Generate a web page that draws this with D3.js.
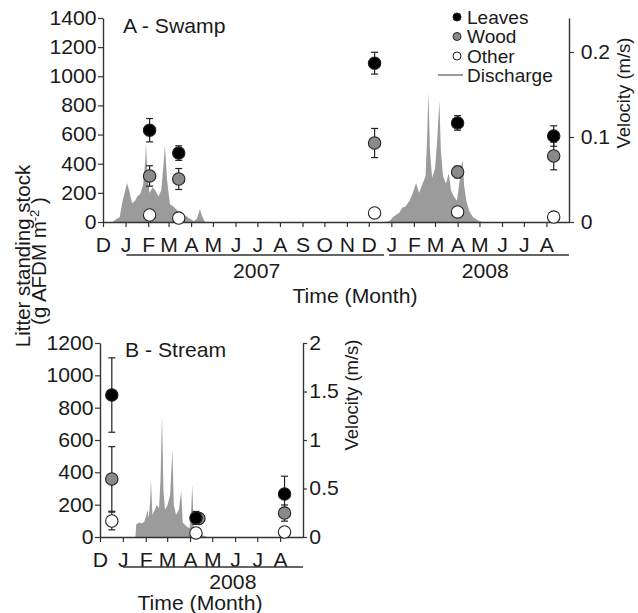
<!DOCTYPE html>
<html><head><meta charset="utf-8">
<script src="https://cdn.jsdelivr.net/npm/d3@7"></script>
<style>
body{margin:0;background:#fff;}
svg{display:block;}
text{font-family:"Liberation Sans",Arial,Helvetica,sans-serif;fill:#1a1a1a;}
</style></head><body>
<svg id="chart" width="638" height="613"></svg>
<script>
const parse = d3.timeParse("%Y-%m-%d");

// ---------- tick labels ----------
const monthLabelsA = ["D","J","F","M","A","M","J","J","A","S","O","N","D","J","F","M","A","M","J","J","A"];
const monthLabelsB = ["D","J","F","M","A","M","J","J","A"];
const litterTicksA = [0,200,400,600,800,1000,1200,1400];
const velTicksA = [0,0.1,0.2];
const litterTicksB = [0,200,400,600,800,1000,1200];
const velTicksB = [0,0.5,1,1.5,2];
const yearLabelsA = ["2007","2008"];
const yearSpansA = [["2007-01-02","2007-12-22"],["2007-12-29","2008-09-01"]];
const yearTextDatesA = ["2007-06-30","2008-05-09"];
const yearLabelsB = ["2008"];
const yearSpansB = [["2008-01-01","2008-09-01"]];
const yearTextDatesB = ["2008-05-29"];
const legendLabels = ["Leaves","Wood","Other","Discharge"];

// ---------- Swamp litter standing stock (g AFDM m-2) ----------
const swampDates      = ["2007-02-03","2007-03-15","2007-12-09","2008-04-01","2008-08-11"];
const swampLeaves     = [630, 473, 1090, 680, 590];
const swampLeavesErr  = [80, 50, 75, 50, 70];
const swampWood       = [316, 295, 542, 343, 453];
const swampWoodErr    = [70, 72, 100, 40, 95];
const swampOther      = [48, 27, 62, 69, 34];
const swampOtherErr   = [0, 0, 0, 0, 0];

// ---------- Stream litter standing stock ----------
const streamDates     = ["2007-12-17","2008-04-09","2008-08-07"];
const streamWoodDates = ["2007-12-17","2008-04-13","2008-08-07"];
const streamLeaves    = [878, 118, 266];
const streamLeavesErr = [230, 40, 110];
const streamWood      = [359, 115, 148];
const streamWoodErr   = [200, 30, 50];
const streamOther     = [99, 25, 31];
const streamOtherErr  = [55, 10, 15];

// ---------- Swamp discharge velocity (m/s) ----------
const swampQDates = ["2006-12-15","2006-12-17","2006-12-24","2006-12-28","2007-01-03","2007-01-06","2007-01-10","2007-01-14","2007-01-17","2007-01-21","2007-01-25","2007-01-28","2007-01-29","2007-01-31","2007-02-03","2007-02-07","2007-02-11","2007-02-15","2007-02-19","2007-02-22","2007-02-24","2007-02-27","2007-03-03","2007-03-08","2007-03-14","2007-03-19","2007-03-25","2007-03-30","2007-04-05","2007-04-09","2007-04-13","2007-04-16","2007-04-20",
  "2007-12-22","2007-12-29","2008-01-05","2008-01-12","2008-01-16","2008-01-20","2008-01-26","2008-01-30","2008-02-04","2008-02-08","2008-02-12","2008-02-17","2008-02-19","2008-02-21","2008-02-23","2008-02-26","2008-03-01","2008-03-04","2008-03-07","2008-03-09","2008-03-12","2008-03-16","2008-03-20","2008-03-23","2008-03-27","2008-03-31","2008-04-03","2008-04-06","2008-04-08","2008-04-10","2008-04-13","2008-04-17","2008-04-22","2008-05-01","2008-05-06"];
const swampQ = [0,0.002,0.006,0.025,0.046,0.037,0.022,0.025,0.030,0.033,0.043,0.072,0.093,0.054,0.034,0.041,0.037,0.030,0.037,0.066,0.090,0.049,0.021,0.018,0.013,0.011,0.007,0.004,0.001,0.004,0.015,0.007,0,
  0,0.001,0.007,0.011,0.017,0.018,0.025,0.033,0.046,0.034,0.043,0.054,0.096,0.153,0.084,0.052,0.063,0.096,0.143,0.084,0.054,0.045,0.057,0.037,0.030,0.025,0.043,0.066,0.072,0.043,0.025,0.013,0.006,0.001,0];

// ---------- Stream discharge velocity (m/s) ----------
const streamQDates = ["2008-01-18","2008-01-19","2008-01-23","2008-01-27","2008-01-30","2008-02-02","2008-02-03","2008-02-05","2008-02-07","2008-02-08","2008-02-10","2008-02-12","2008-02-16","2008-02-19","2008-02-21","2008-02-23","2008-02-25","2008-02-27","2008-03-01","2008-03-05","2008-03-08","2008-03-10","2008-03-13","2008-03-17","2008-03-20","2008-03-22","2008-03-27","2008-03-31","2008-04-02","2008-04-04","2008-04-06","2008-04-11","2008-04-17","2008-04-24"];
const streamQ = [0,0.13,0.15,0.14,0.16,0.23,0.28,0.20,0.38,0.59,0.23,0.26,0.33,0.30,0.59,1.26,0.48,0.28,0.32,0.43,0.90,0.33,0.23,0.28,0.48,0.15,0.11,0.09,0.18,0.54,0.09,0.05,0.02,0];

// ---------- styling ----------
const FS = 20, SX = 1.06;
const AX = "#333";
const COL = {leaves:"#000", wood:"#8a8a8a", other:"#fff", area:"#9b9b9b"};
const svg = d3.select("#chart");

function stext(g, x, y, str, anchor, size) {
  return g.append("text")
    .attr("transform", `translate(${x},${y}) scale(${SX},1)`)
    .attr("text-anchor", anchor || "start")
    .style("font-size", (size||FS) + "px")
    .text(str);
}
function styleAxis(g) {
  g.select(".domain").attr("stroke", AX).attr("stroke-width", 1.4);
  g.selectAll(".tick line").attr("stroke", AX).attr("stroke-width", 1.2);
  g.selectAll(".tick text").style("font-size", FS + "px").attr("fill", "#1a1a1a")
    .attr("font-family", "Liberation Sans, Arial, sans-serif")
    .attr("transform", `scale(${SX},1)`);
}

function panel(o) {
  const g = svg.append("g");
  const x = d3.scaleTime().domain([parse(o.start), parse(o.end)]).range(o.xr);
  const y = d3.scaleLinear().domain([0, o.yMax]).range(o.yr);
  const v = d3.scaleLinear().domain([0, o.vMax]).range(o.yr);

  const qd = o.qDates.map((d,i)=>({date:parse(d), v:o.q[i]}));
  g.append("path").datum(qd)
    .attr("fill", COL.area)
    .attr("d", d3.area().x(d=>x(d.date)).y0(v(0)).y1(d=>v(d.v)));

  const months = d3.timeMonth.range(parse(o.start), parse(o.end));
  const xa = g.append("g").attr("transform", `translate(0,${o.yr[0]})`)
    .call(d3.axisBottom(x).tickValues(months).tickSize(5).tickSizeOuter(0).tickPadding(11)
      .tickFormat((d,i)=>o.monthLabels[i]));
  styleAxis(xa);

  const ya = g.append("g").attr("transform", `translate(${o.xr[0]},0)`)
    .call(d3.axisLeft(y).tickValues(o.yTicks).tickSize(5).tickSizeOuter(0).tickPadding(1).tickFormat(d3.format("d")));
  styleAxis(ya);

  const va = g.append("g").attr("transform", `translate(${o.xr[1]},0)`)
    .call(d3.axisRight(v).tickValues(o.vTicks).tickSize(o.vTickSize).tickSizeOuter(0).tickPadding(o.vPad).tickFormat(d=>String(d)));
  styleAxis(va);

  o.yearLabels.forEach((lab,i)=>{
    const [a,b] = o.yearSpans[i];
    g.append("line").attr("x1", x(parse(a))).attr("x2", x(parse(b)))
      .attr("y1", o.yearLineY).attr("y2", o.yearLineY)
      .attr("stroke", AX).attr("stroke-width", 1.3);
    stext(g, x(parse(o.yearTextDates[i])), o.yearTextY, lab, "middle");
  });

  const series = [
    {dates:o.otherDates||o.dates, val:o.other, err:o.otherErr, fill:COL.other},
    {dates:o.woodDates||o.dates, val:o.wood, err:o.woodErr, fill:COL.wood},
    {dates:o.dates, val:o.leaves, err:o.leavesErr, fill:COL.leaves}
  ];
  series.forEach(s=>{
    s.val.forEach((val,i)=>{
      const cx = x(parse(s.dates[i]));
      if (s.err[i] > 0) {
        const eg = g.append("g").attr("stroke","#222").attr("stroke-width",1.2);
        eg.append("line").attr("x1",cx).attr("x2",cx).attr("y1",y(val-s.err[i])).attr("y2",y(val+s.err[i]));
        [val-s.err[i], val+s.err[i]].forEach(e=>{
          eg.append("line").attr("x1",cx-3.5).attr("x2",cx+3.5).attr("y1",y(e)).attr("y2",y(e));
        });
      }
    });
  });
  series.forEach(s=>{
    s.val.forEach((val,i)=>{
      g.append("circle").attr("cx", x(parse(s.dates[i]))).attr("cy", y(val)).attr("r", 6.2)
        .attr("fill", s.fill).attr("stroke", "#222").attr("stroke-width", 1.1);
    });
  });

  stext(g, o.titleX, o.titleY, o.title, "start");
  stext(g, o.xTitleX, o.xTitleY, "Time (Month)", "middle");
  g.append("text").attr("transform", `translate(${o.vTitleX},${o.vTitleY}) rotate(-90)`)
    .attr("text-anchor","middle").style("font-size","18.5px").text("Velocity (m/s)");
  return {x,y,v,g};
}

panel({
  start:"2006-12-01", end:"2008-09-01", xr:[103,569], yr:[222,18], yMax:1400, vMax:0.24,
  yTicks:litterTicksA, vTicks:velTicksA, vTickSize:5, vPad:6, monthLabels:monthLabelsA,
  qDates:swampQDates, q:swampQ,
  dates:swampDates, leaves:swampLeaves, leavesErr:swampLeavesErr, wood:swampWood, woodErr:swampWoodErr,
  other:swampOther, otherErr:swampOtherErr,
  yearLabels:yearLabelsA, yearSpans:yearSpansA, yearTextDates:yearTextDatesA, yearLineY:255, yearTextY:278,
  title:"A - Swamp", titleX:123, titleY:33, xTitleX:355, xTitleY:303, vTitleX:630, vTitleY:93
});

panel({
  start:"2007-12-01", end:"2008-09-01", xr:[100,303], yr:[537,343], yMax:1200, vMax:2,
  yTicks:litterTicksB, vTicks:velTicksB, vTickSize:4, vPad:2, monthLabels:monthLabelsB,
  qDates:streamQDates, q:streamQ,
  dates:streamDates, woodDates:streamWoodDates, leaves:streamLeaves, leavesErr:streamLeavesErr,
  wood:streamWood, woodErr:streamWoodErr, other:streamOther, otherErr:streamOtherErr,
  yearLabels:yearLabelsB, yearSpans:yearSpansB, yearTextDates:yearTextDatesB, yearLineY:567, yearTextY:589,
  title:"B - Stream", titleX:125, titleY:357, xTitleX:200, xTitleY:610, vTitleX:358, vTitleY:395
});

// shared y title
const yt = svg.append("text").attr("transform","translate(30,256) rotate(-90)")
  .attr("text-anchor","middle").style("font-size","20.5px");
yt.text("Litter standing stock");
const yt2 = svg.append("text").attr("transform","translate(46,261) rotate(-90)")
  .attr("text-anchor","middle").style("font-size","20.5px");
yt2.append("tspan").text("(g AFDM m");
yt2.append("tspan").attr("dy","-7").style("font-size","13px").text("-2");
yt2.append("tspan").attr("dy","7").text(" )");

// legend
const lg = svg.append("g");
const legFills = [COL.leaves, COL.wood, COL.other];
legendLabels.forEach((lab,i)=>{
  const cy = 17 + i*19.5;
  if (i < 3) {
    lg.append("circle").attr("cx",457).attr("cy",cy).attr("r",4)
      .attr("fill",legFills[i]).attr("stroke","#222").attr("stroke-width",1);
  } else {
    lg.append("line").attr("x1",438).attr("x2",463).attr("y1",75).attr("y2",75)
      .attr("stroke",COL.area).attr("stroke-width",2);
  }
  stext(lg, 467, cy + 6.5, lab, "start", 18);
});
</script>
</body></html>
